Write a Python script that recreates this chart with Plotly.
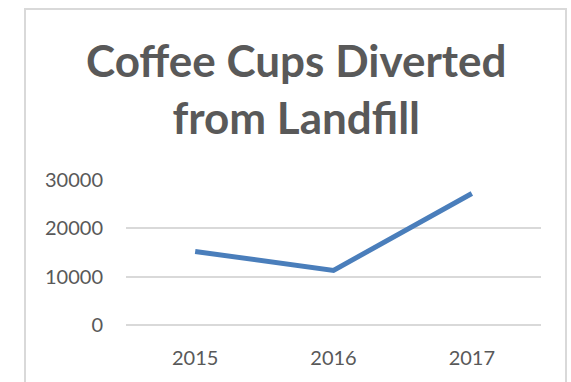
import plotly.graph_objects as go

# Data
years = ["2015", "2016", "2017"]
cups_diverted = [15200, 11300, 27200]
y_ticks = [0, 10000, 20000, 30000]

W, H = 571, 382
L, R, T, B = 126, 30, 180, 57
plot_w = W - L - R
plot_h = H - T - B

def px_x(px):
    return (px - L) / plot_w

def px_y(py):
    return (H - B - py) / plot_h

fig = go.Figure(
    go.Scatter(
        x=years,
        y=cups_diverted,
        mode="lines",
        line=dict(color="#4A7EBB", width=5),
        hoverinfo="x+y",
    )
)

fig.update_layout(
    width=W,
    height=H,
    margin=dict(l=L, r=R, t=T, b=B),
    paper_bgcolor="white",
    plot_bgcolor="white",
    showlegend=False,
    font=dict(family="Lato, sans-serif", color="#595959"),
)

fig.update_xaxes(
    type="category",
    range=[-0.5, 2.5],
    showgrid=False,
    zeroline=False,
    showline=False,
    ticks="outside",
    ticklen=15,
    tickcolor="rgba(0,0,0,0)",
    tickfont=dict(size=20, color="#595959"),
)

fig.update_yaxes(
    range=[0, 30000],
    tickvals=y_ticks,
    ticktext=[str(v) for v in y_ticks],
    showgrid=True,
    gridcolor="#D9D9D9",
    gridwidth=2,
    zeroline=True,
    zerolinecolor="#D9D9D9",
    zerolinewidth=2,
    showline=False,
    ticks="outside",
    ticklen=18,
    tickcolor="rgba(0,0,0,0)",
    tickfont=dict(size=20, color="#595959"),
)

# Title
fig.add_annotation(
    text="<b>Coffee Cups Diverted<br>from Landfill</b>",
    xref="paper", yref="paper",
    x=px_x(296), y=px_y(32),
    xanchor="center", yanchor="top",
    showarrow=False,
    align="center",
    font=dict(family="Lato, sans-serif", size=44, color="#595959"),
)

# Chart area border
fig.add_shape(
    type="rect",
    xref="paper", yref="paper",
    x0=px_x(25), x1=px_x(566),
    y0=px_y(395), y1=px_y(9),
    line=dict(color="#D9D9D9", width=2),
    fillcolor="rgba(0,0,0,0)",
    layer="below",
)

fig.write_html("out.html")
